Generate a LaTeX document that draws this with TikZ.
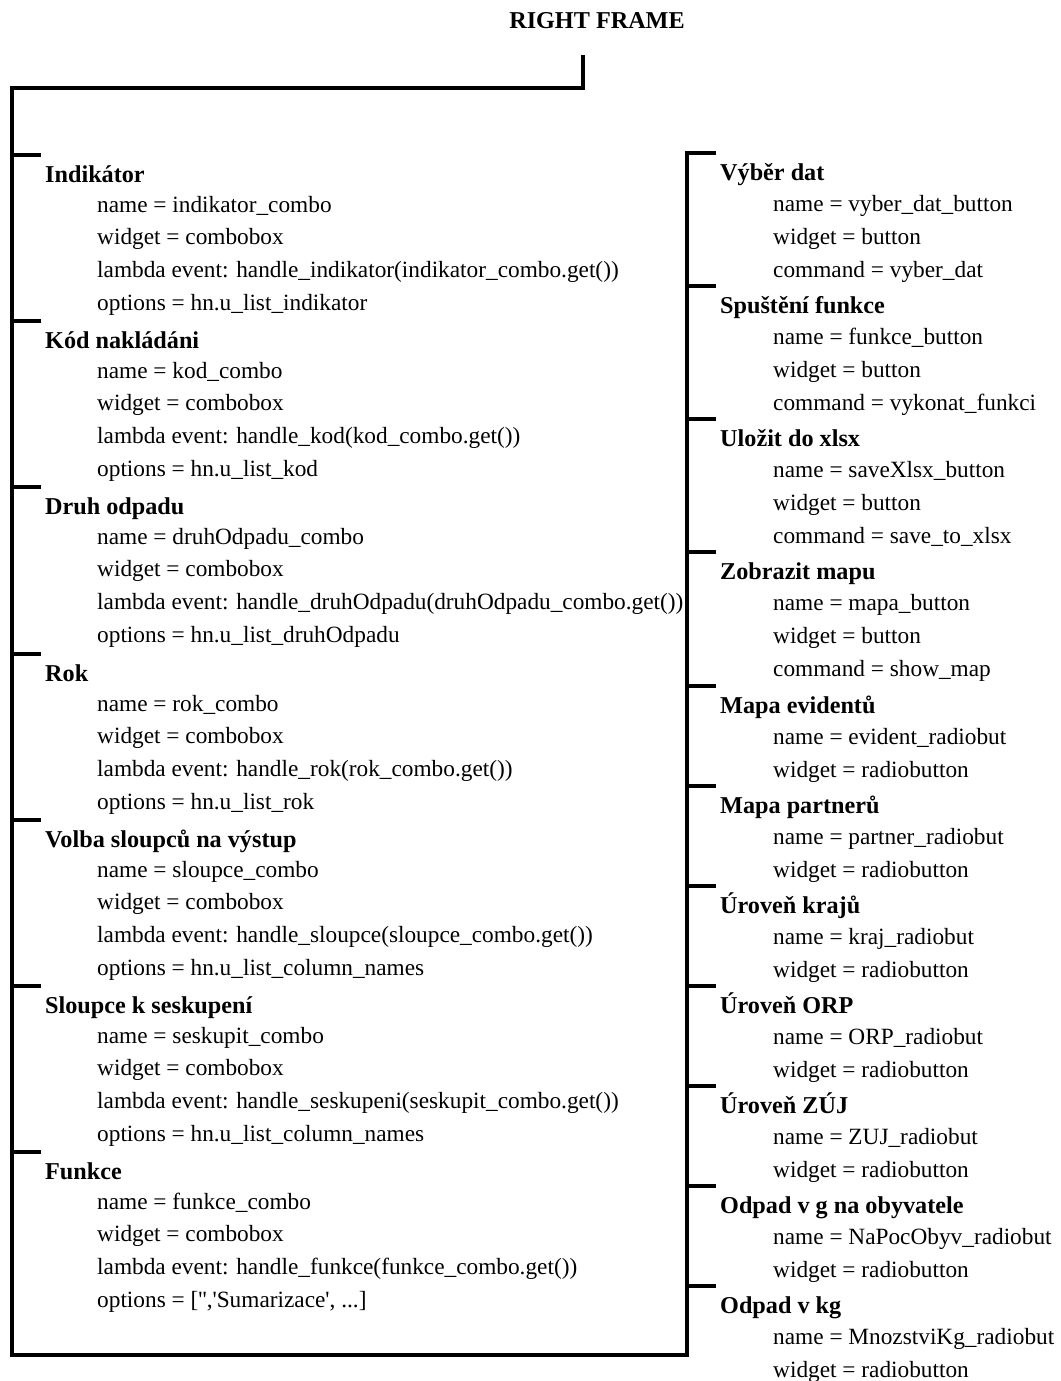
\documentclass[tikz,border=0pt]{standalone}
\usepackage{fontspec}
\newfontfamily\guifont{Liberation Serif}
\newcommand\guitext{\guifont\fontsize{23.3pt}{28pt}\selectfont}
\newcommand\guihead{\guifont\fontsize{24.2pt}{28pt}\selectfont\bfseries}
\usetikzlibrary{positioning}

\begin{document}
\begin{tikzpicture}
[x=1pt,y=1pt,font=\guitext,
 bracket/.style={line width=4.5pt, shorten >=4pt},
 stub/.style={line width=4.5pt, shorten >=4pt},
 heading/.style={font=\guihead, inner sep=0pt, below right=#1, anchor=base west},
 attr/.style={inner sep=0pt, below right=#1, anchor=base west}]
\useasboundingbox (0,0) rectangle (1060,-1381);
\node[font=\guihead, anchor=base] (title) at (597,-28.5) {RIGHT FRAME};
\coordinate (top) at (583,-55);
\coordinate (tl) at (12,-88);
\coordinate (bl) at (12,-1355);
% left column
\coordinate (l1) at (12,-155);
\coordinate (l2) at (12,-321);
\coordinate (l3) at (12,-487);
\coordinate (l4) at (12,-654);
\coordinate (l5) at (12,-820);
\coordinate (l6) at (12,-986);
\coordinate (l7) at (12,-1152);
\node[heading=27pt and 33pt of l1.center] (ind) {Indikátor};
\node[attr=30pt and 52pt of ind.base west] (ind1) {name = indikator\_combo};
\node[attr=32.8pt and 0pt of ind1.base west] (ind2) {widget = combobox};
\node[attr=32.8pt and 0pt of ind2.base west] (ind3) {lambda event: handle\_indikator(indikator\_combo.get())};
\node[attr=32.8pt and 0pt of ind3.base west] (ind4) {options = hn.u\_list\_indikator};
\node[heading=27pt and 33pt of l2.center] (kod) {Kód nakládáni};
\node[attr=30pt and 52pt of kod.base west] (kod1) {name = kod\_combo};
\node[attr=32.8pt and 0pt of kod1.base west] (kod2) {widget = combobox};
\node[attr=32.8pt and 0pt of kod2.base west] (kod3) {lambda event: handle\_kod(kod\_combo.get())};
\node[attr=32.8pt and 0pt of kod3.base west] (kod4) {options = hn.u\_list\_kod};
\node[heading=27pt and 33pt of l3.center] (druh) {Druh odpadu};
\node[attr=30pt and 52pt of druh.base west] (druh1) {name = druhOdpadu\_combo};
\node[attr=32.8pt and 0pt of druh1.base west] (druh2) {widget = combobox};
\node[attr=32.8pt and 0pt of druh2.base west] (druh3) {lambda event: handle\_druhOdpadu(druhOdpadu\_combo.get())};
\node[attr=32.8pt and 0pt of druh3.base west] (druh4) {options = hn.u\_list\_druhOdpadu};
\node[heading=27pt and 33pt of l4.center] (rok) {Rok};
\node[attr=30pt and 52pt of rok.base west] (rok1) {name = rok\_combo};
\node[attr=32.8pt and 0pt of rok1.base west] (rok2) {widget = combobox};
\node[attr=32.8pt and 0pt of rok2.base west] (rok3) {lambda event: handle\_rok(rok\_combo.get())};
\node[attr=32.8pt and 0pt of rok3.base west] (rok4) {options = hn.u\_list\_rok};
\node[heading=27pt and 33pt of l5.center] (volba) {Volba sloupců na výstup};
\node[attr=30pt and 52pt of volba.base west] (volba1) {name = sloupce\_combo};
\node[attr=32.8pt and 0pt of volba1.base west] (volba2) {widget = combobox};
\node[attr=32.8pt and 0pt of volba2.base west] (volba3) {lambda event: handle\_sloupce(sloupce\_combo.get())};
\node[attr=32.8pt and 0pt of volba3.base west] (volba4) {options = hn.u\_list\_column\_names};
\node[heading=27pt and 33pt of l6.center] (sesk) {Sloupce k seskupení};
\node[attr=30pt and 52pt of sesk.base west] (sesk1) {name = seskupit\_combo};
\node[attr=32.8pt and 0pt of sesk1.base west] (sesk2) {widget = combobox};
\node[attr=32.8pt and 0pt of sesk2.base west] (sesk3) {lambda event: handle\_seskupeni(seskupit\_combo.get())};
\node[attr=32.8pt and 0pt of sesk3.base west] (sesk4) {options = hn.u\_list\_column\_names};
\node[heading=27pt and 33pt of l7.center] (funk) {Funkce};
\node[attr=30pt and 52pt of funk.base west] (funk1) {name = funkce\_combo};
\node[attr=32.8pt and 0pt of funk1.base west] (funk2) {widget = combobox};
\node[attr=32.8pt and 0pt of funk2.base west] (funk3) {lambda event: handle\_funkce(funkce\_combo.get())};
\node[attr=32.8pt and 0pt of funk3.base west] (funk4) {options = ['','Sumarizace', ...]};
% right column
\coordinate (r1) at (687,-153);
\coordinate (r2) at (687,-286);
\coordinate (r3) at (687,-419);
\coordinate (r4) at (687,-552);
\coordinate (r5) at (687,-686);
\coordinate (r6) at (687,-786);
\coordinate (r7) at (687,-886);
\coordinate (r8) at (687,-986);
\coordinate (r9) at (687,-1086);
\coordinate (r10) at (687,-1186);
\coordinate (r11) at (687,-1286);
\node[heading=27pt and 33pt of r1.center] (vyb) {Výběr dat};
\node[attr=31pt and 53pt of vyb.base west] (vyb1) {name = vyber\_dat\_button};
\node[attr=33pt and 0pt of vyb1.base west] (vyb2) {widget = button};
\node[attr=33pt and 0pt of vyb2.base west] (vyb3) {command = vyber\_dat};
\node[heading=27pt and 33pt of r2.center] (spus) {Spuštění funkce};
\node[attr=31pt and 53pt of spus.base west] (spus1) {name = funkce\_button};
\node[attr=33pt and 0pt of spus1.base west] (spus2) {widget = button};
\node[attr=33pt and 0pt of spus2.base west] (spus3) {command = vykonat\_funkci};
\node[heading=27pt and 33pt of r3.center] (ulo) {Uložit do xlsx};
\node[attr=31pt and 53pt of ulo.base west] (ulo1) {name = saveXlsx\_button};
\node[attr=33pt and 0pt of ulo1.base west] (ulo2) {widget = button};
\node[attr=33pt and 0pt of ulo2.base west] (ulo3) {command = save\_to\_xlsx};
\node[heading=27pt and 33pt of r4.center] (zob) {Zobrazit mapu};
\node[attr=31pt and 53pt of zob.base west] (zob1) {name = mapa\_button};
\node[attr=33pt and 0pt of zob1.base west] (zob2) {widget = button};
\node[attr=33pt and 0pt of zob2.base west] (zob3) {command = show\_map};
\node[heading=27pt and 33pt of r5.center] (evi) {Mapa evidentů};
\node[attr=31pt and 53pt of evi.base west] (evi1) {name = evident\_radiobut};
\node[attr=33pt and 0pt of evi1.base west] (evi2) {widget = radiobutton};
\node[heading=27pt and 33pt of r6.center] (par) {Mapa partnerů};
\node[attr=31pt and 53pt of par.base west] (par1) {name = partner\_radiobut};
\node[attr=33pt and 0pt of par1.base west] (par2) {widget = radiobutton};
\node[heading=27pt and 33pt of r7.center] (kraj) {Úroveň krajů};
\node[attr=31pt and 53pt of kraj.base west] (kraj1) {name = kraj\_radiobut};
\node[attr=33pt and 0pt of kraj1.base west] (kraj2) {widget = radiobutton};
\node[heading=27pt and 33pt of r8.center] (orp) {Úroveň ORP};
\node[attr=31pt and 53pt of orp.base west] (orp1) {name = ORP\_radiobut};
\node[attr=33pt and 0pt of orp1.base west] (orp2) {widget = radiobutton};
\node[heading=27pt and 33pt of r9.center] (zuj) {Úroveň ZÚJ};
\node[attr=31pt and 53pt of zuj.base west] (zuj1) {name = ZUJ\_radiobut};
\node[attr=33pt and 0pt of zuj1.base west] (zuj2) {widget = radiobutton};
\node[heading=27pt and 33pt of r10.center] (obyv) {Odpad v g na obyvatele};
\node[attr=31pt and 53pt of obyv.base west] (obyv1) {name = NaPocObyv\_radiobut};
\node[attr=33pt and 0pt of obyv1.base west] (obyv2) {widget = radiobutton};
\node[heading=27pt and 33pt of r11.center] (kg) {Odpad v kg};
\node[attr=31pt and 53pt of kg.base west] (kg1) {name = MnozstviKg\_radiobut};
\node[attr=33pt and 0pt of kg1.base west] (kg2) {widget = radiobutton};
% brackets
\draw[bracket] (top) |- (tl) -- (bl) -| (r1) -- (r1 -| vyb.west);
\draw[stub] (l1) -- (l1 -| ind.west);
\draw[stub] (l2) -- (l2 -| kod.west);
\draw[stub] (l3) -- (l3 -| druh.west);
\draw[stub] (l4) -- (l4 -| rok.west);
\draw[stub] (l5) -- (l5 -| volba.west);
\draw[stub] (l6) -- (l6 -| sesk.west);
\draw[stub] (l7) -- (l7 -| funk.west);
\draw[stub] (r2) -- (r2 -| spus.west);
\draw[stub] (r3) -- (r3 -| ulo.west);
\draw[stub] (r4) -- (r4 -| zob.west);
\draw[stub] (r5) -- (r5 -| evi.west);
\draw[stub] (r6) -- (r6 -| par.west);
\draw[stub] (r7) -- (r7 -| kraj.west);
\draw[stub] (r8) -- (r8 -| orp.west);
\draw[stub] (r9) -- (r9 -| zuj.west);
\draw[stub] (r10) -- (r10 -| obyv.west);
\draw[stub] (r11) -- (r11 -| kg.west);
\end{tikzpicture}
\end{document}
